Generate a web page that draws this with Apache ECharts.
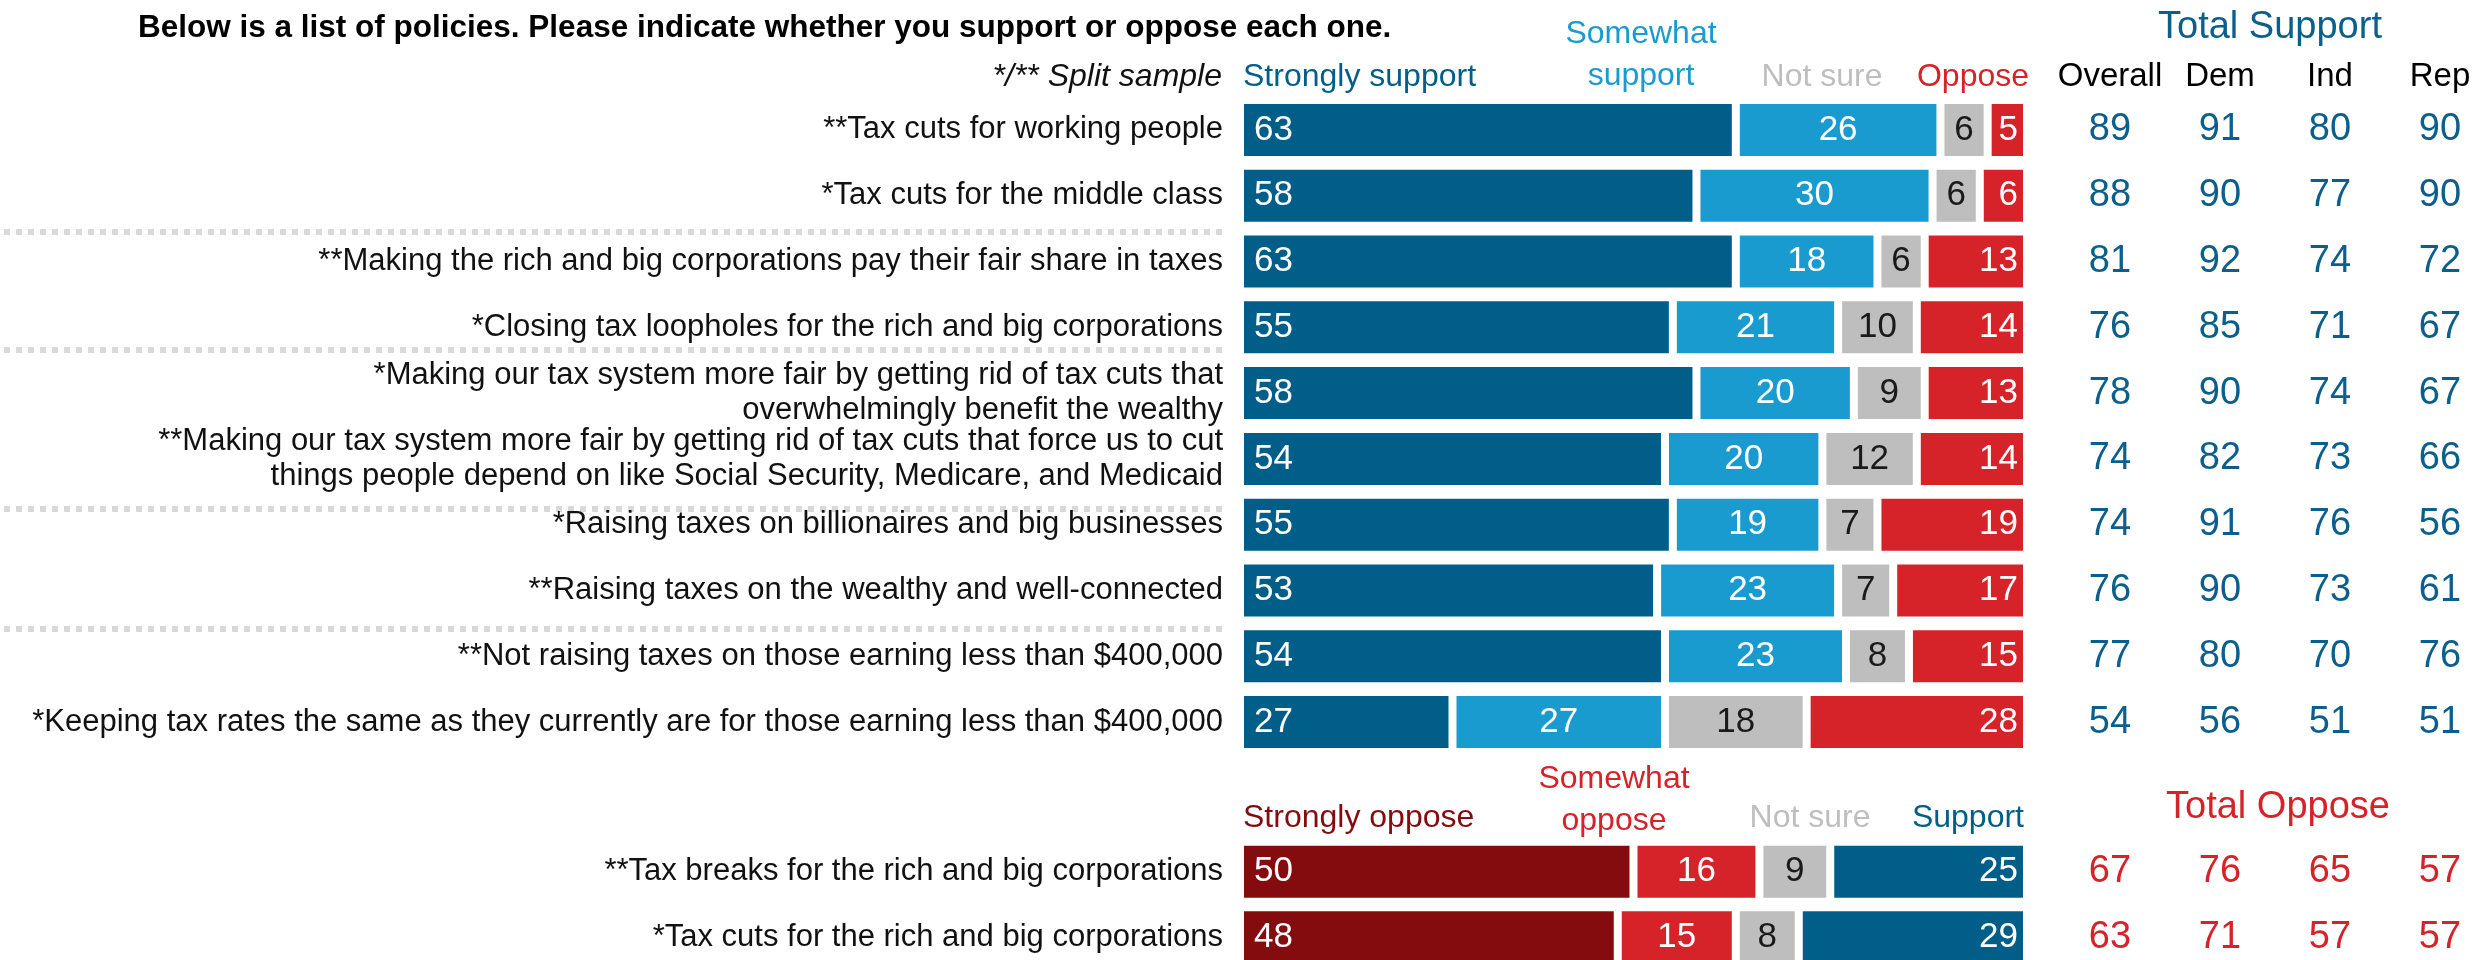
<!DOCTYPE html>
<html>
<head>
<meta charset="utf-8">
<script src="https://cdn.jsdelivr.net/npm/echarts@6.0.0/dist/echarts.min.js"></script>
<style>
html, body { margin: 0; padding: 0; background: #ffffff; overflow: hidden; }
#chart { width: 2489px; height: 960px; }
</style>
</head>
<body>
<div id="chart"></div>
<script>
// Policies measured on support (top block)
const supportPolicies = [
  '**Tax cuts for working people',
  '*Tax cuts for the middle class',
  '**Making the rich and big corporations pay their fair share in taxes',
  '*Closing tax loopholes for the rich and big corporations',
  '*Making our tax system more fair by getting rid of tax cuts that\noverwhelmingly benefit the wealthy',
  '**Making our tax system more fair by getting rid of tax cuts that force us to cut\nthings people depend on like Social Security, Medicare, and Medicaid',
  '*Raising taxes on billionaires and big businesses',
  '**Raising taxes on the wealthy and well-connected',
  '**Not raising taxes on those earning less than $400,000',
  '*Keeping tax rates the same as they currently are for those earning less than $400,000'
];
const stronglySupport = [63, 58, 63, 55, 58, 54, 55, 53, 54, 27];
const somewhatSupport = [26, 30, 18, 21, 20, 20, 19, 23, 23, 27];
const notSureTop      = [6, 6, 6, 10, 9, 12, 7, 7, 8, 18];
const opposeTop       = [5, 6, 13, 14, 13, 14, 19, 17, 15, 28];

const supportOverall = [89, 88, 81, 76, 78, 74, 74, 76, 77, 54];
const supportDem     = [91, 90, 92, 85, 90, 82, 91, 90, 80, 56];
const supportInd     = [80, 77, 74, 71, 74, 73, 76, 73, 70, 51];
const supportRep     = [90, 90, 72, 67, 67, 66, 56, 61, 76, 51];

// Policies measured on opposition (bottom block)
const opposePolicies = [
  '**Tax breaks for the rich and big corporations',
  '*Tax cuts for the rich and big corporations'
];
const stronglyOppose = [50, 48];
const somewhatOppose = [16, 15];
const notSureBottom  = [9, 8];
const supportBottom  = [25, 29];

const opposeOverall = [67, 63];
const opposeDem     = [76, 71];
const opposeInd     = [65, 57];
const opposeRep     = [57, 57];

const groupLabels = ['Overall', 'Dem', 'Ind', 'Rep'];
const separatorRows = [1, 3, 5, 7]; // dotted rule drawn below these rows

const C = {
  darkBlue: '#005E89',
  lightBlue: '#1A9BCF',
  gray: '#BEBEBE',
  red: '#D6232A',
  darkRed: '#840C0F',
  numBlue: '#0B5F8C',
  text: '#111111'
};
const FONT = '"Liberation Sans", Arial, sans-serif';

const chart = echarts.init(document.getElementById('chart'), null, { renderer: 'canvas' });

function barSeries(name, data, color, x, y, stack, labelPos, labelColor, dist) {
  return {
    type: 'bar', name, data, stack,
    xAxisIndex: x, yAxisIndex: y,
    barWidth: 60,
    itemStyle: { color, borderColor: '#ffffff', borderWidth: 4 },
    label: {
      show: true, position: labelPos, distance: dist,
      color: labelColor, textBorderWidth: 0,
      fontFamily: FONT, fontSize: 35
    },
    emphasis: { disabled: true }
  };
}

function tableSeries(cols, x, y, color) {
  const data = [];
  cols.forEach((col, c) => col.forEach((v, r) => data.push([c, r, v])));
  return {
    type: 'scatter', xAxisIndex: x, yAxisIndex: y,
    symbolSize: 0, data,
    itemStyle: { color, opacity: 1 },
    label: {
      show: true, position: 'inside',
      formatter: p => p.value[2],
      color, opacity: 1, textBorderWidth: 0,
      fontFamily: FONT, fontSize: 38
    },
    emphasis: { disabled: true }
  };
}

const hiddenCat = (grid, data) => ({
  type: 'category', gridIndex: grid, data, inverse: true, show: false
});

const labelAxis = (grid, data) => ({
  type: 'category', gridIndex: grid, data, inverse: true,
  axisLine: { show: false }, axisTick: { show: false },
  axisLabel: {
    interval: 0, margin: 17, color: C.text,
    fontFamily: FONT, fontSize: 31, lineHeight: 35, align: 'right'
  }
});

const gridBox = (left, width, top, height) => ({
  left, width, top, height, outerBoundsMode: 'none', containLabel: false
});

const option = {
  animation: false,
  backgroundColor: '#ffffff',
  grid: [
    gridBox(1240, 787, 97, 658),
    gridBox(2055, 440, 97, 658),
    gridBox(1240, 787, 839, 131),
    gridBox(2055, 440, 839, 131)
  ],
  xAxis: [
    { type: 'value', gridIndex: 0, min: 0, max: 100, show: false },
    {
      type: 'category', gridIndex: 1, data: groupLabels, position: 'top',
      axisLine: { show: false }, axisTick: { show: false },
      axisLabel: { interval: 0, margin: 4, color: '#000000', fontFamily: FONT, fontSize: 33 }
    },
    { type: 'value', gridIndex: 2, min: 0, max: 100, show: false },
    { type: 'category', gridIndex: 3, data: groupLabels, show: false }
  ],
  yAxis: [
    labelAxis(0, supportPolicies),
    hiddenCat(1, supportPolicies),
    labelAxis(2, opposePolicies),
    hiddenCat(3, opposePolicies)
  ],
  series: [
    barSeries('Strongly support', stronglySupport, C.darkBlue, 0, 0, 'top', 'insideLeft', '#ffffff', 14),
    barSeries('Somewhat support', somewhatSupport, C.lightBlue, 0, 0, 'top', 'inside', '#ffffff', 0),
    barSeries('Not sure', notSureTop, C.gray, 0, 0, 'top', 'inside', '#1a1a1a', 0),
    barSeries('Oppose', opposeTop, C.red, 0, 0, 'top', 'insideRight', '#ffffff', 9),
    tableSeries([supportOverall, supportDem, supportInd, supportRep], 1, 1, C.numBlue),

    barSeries('Strongly oppose', stronglyOppose, C.darkRed, 2, 2, 'bottom', 'insideLeft', '#ffffff', 14),
    barSeries('Somewhat oppose', somewhatOppose, C.red, 2, 2, 'bottom', 'inside', '#ffffff', 0),
    barSeries('Not sure ', notSureBottom, C.gray, 2, 2, 'bottom', 'inside', '#1a1a1a', 0),
    barSeries('Support', supportBottom, C.darkBlue, 2, 2, 'bottom', 'insideRight', '#ffffff', 9),
    tableSeries([opposeOverall, opposeDem, opposeInd, opposeRep], 3, 3, C.red)
  ]
};

chart.setOption(option);

// Header texts and dotted separators in the label column
function txt(text, x, y, color, opts) {
  return {
    type: 'text', x, y, silent: true,
    style: Object.assign({
      text, fill: color, fontFamily: FONT, fontSize: 32,
      align: 'center', verticalAlign: 'middle', lineHeight: 42
    }, opts || {})
  };
}

const graphics = [
  txt('Below is a list of policies. Please indicate whether you support or oppose each one.', 138, 28, '#000000',
      { align: 'left', fontWeight: 'bold', fontSize: 31.5 }),
  txt('*/** Split sample', 1222, 77, '#111111', { align: 'right', fontStyle: 'italic', fontSize: 32 }),
  txt('Strongly support', 1243, 77, C.darkBlue, { align: 'left' }),
  txt('Somewhat\nsupport', 1641, 55, C.lightBlue),
  txt('Not sure', 1822, 77, C.gray),
  txt('Oppose', 1973, 77, C.red),
  txt('Total Support', 2270, 28, C.numBlue, { fontSize: 38 }),

  txt('Strongly oppose', 1243, 818, C.darkRed, { align: 'left' }),
  txt('Somewhat\noppose', 1614, 800, C.red),
  txt('Not sure', 1810, 818, C.gray),
  txt('Support', 2024, 818, C.darkBlue, { align: 'right' }),
  txt('Total Oppose', 2278, 808, C.red, { fontSize: 38 })
];

// rules sit between rows, nudged clear of the two-line labels
const ruleNudge = [3, -10, 17, 6];
separatorRows.forEach((i, k) => {
  const y0 = chart.convertToPixel({ yAxisIndex: 0 }, i);
  const y1 = chart.convertToPixel({ yAxisIndex: 0 }, i + 1);
  const y = Math.round((y0 + y1) / 2) + ruleNudge[k];
  graphics.push({
    type: 'line', silent: true,
    shape: { x1: 4, y1: y, x2: 1222, y2: y },
    style: { stroke: '#D9D9D9', lineWidth: 6, lineDash: [6, 6] }
  });
});

chart.setOption({ graphic: graphics });
</script>
</body>
</html>
